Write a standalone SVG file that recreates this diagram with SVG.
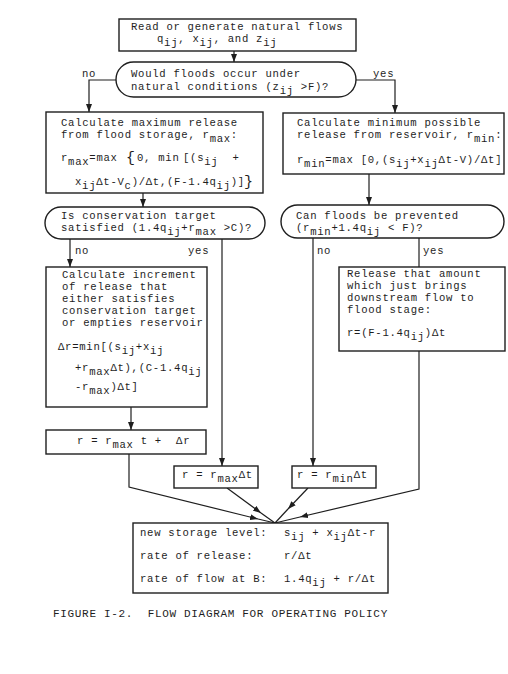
<svg xmlns="http://www.w3.org/2000/svg" width="508" height="674" viewBox="0 0 508 674">
<style>
  .bg{fill:#ffffff}
  .box{fill:#ffffff;stroke:#1e1e1e;stroke-width:1.4}
  .ln{fill:none;stroke:#1e1e1e;stroke-width:1.2}
  .t{font-family:"Liberation Mono","DejaVu Sans Mono",monospace;font-size:10.6px;letter-spacing:0.72px;fill:#1e1e1e;white-space:pre}
  .big{font-size:15px;letter-spacing:0}
  .cap{font-size:11px;letter-spacing:0.68px}
</style>
<defs>
  <marker id="arr" markerUnits="userSpaceOnUse" markerWidth="9" markerHeight="7" refX="8" refY="3.5" orient="auto">
    <path d="M0,0.5 L8,3.5 L0,6.5 z" fill="#1e1e1e"/>
  </marker>
</defs>
<rect class="bg" x="0" y="0" width="508" height="674"/>

<g id="connectors">
  <line class="ln" x1="234" y1="51" x2="234" y2="62" marker-end="url(#arr)"/>
  <polyline class="ln" points="116,80 89,80 89,112" marker-end="url(#arr)"/>
  <polyline class="ln" points="356,80 395,80 395,113" marker-end="url(#arr)"/>
  <line class="ln" x1="143" y1="193" x2="143" y2="207" marker-end="url(#arr)"/>
  <line class="ln" x1="369" y1="174" x2="369" y2="205" marker-end="url(#arr)"/>
  <line class="ln" x1="70" y1="239" x2="70" y2="267" marker-end="url(#arr)"/>
  <line class="ln" x1="222" y1="239" x2="222" y2="466" marker-end="url(#arr)"/>
  <line class="ln" x1="131" y1="407" x2="131" y2="430" marker-end="url(#arr)"/>
  <line class="ln" x1="313" y1="238" x2="313" y2="466" marker-end="url(#arr)"/>
  <line class="ln" x1="419" y1="238" x2="419" y2="267"/>
  <polyline class="ln" points="129,454 129,487 258,519" marker-end="url(#arr)"/>
  <line class="ln" x1="258" y1="519" x2="275" y2="523"/>
  <line class="ln" x1="227" y1="488" x2="261" y2="513" marker-end="url(#arr)"/>
  <line class="ln" x1="261" y1="513" x2="275" y2="523"/>
  <line class="ln" x1="308" y1="488" x2="288" y2="509" marker-end="url(#arr)"/>
  <line class="ln" x1="288" y1="509" x2="275" y2="523"/>
  <polyline class="ln" points="419,351 419,489 300,517" marker-end="url(#arr)"/>
  <line class="ln" x1="300" y1="517" x2="275" y2="523"/>
  <text class="t" x="82" y="77">no</text>
  <text class="t" x="373" y="77">yes</text>
  <text class="t" x="75" y="254">no</text>
  <text class="t" x="188" y="254">yes</text>
  <text class="t" x="317" y="254">no</text>
  <text class="t" x="423" y="254">yes</text>
</g>

<g id="read">
  <rect class="box" x="119" y="19" width="237" height="32"/>
  <text class="t"><tspan x="131" y="30">Read or generate natural flows</tspan><tspan x="157" y="42">q</tspan><tspan dy="4">ij</tspan><tspan dy="-4">, x</tspan><tspan dy="4">ij</tspan><tspan dy="-4">, and z</tspan><tspan dy="4">ij</tspan></text>
</g>

<g id="floods">
  <rect class="box" x="116" y="62" width="240" height="35" rx="17.5"/>
  <text class="t"><tspan x="131" y="77">Would floods occur under</tspan><tspan x="131" y="90">natural conditions (z</tspan><tspan dy="4">ij</tspan><tspan dy="-4"> &gt;F)?</tspan></text>
</g>

<g id="maxrelease">
  <rect class="box" x="46" y="112" width="217" height="81"/>
  <text class="t"><tspan x="61" y="126">Calculate maximum release</tspan><tspan x="61" y="138">from flood storage, r</tspan><tspan dy="4">max</tspan><tspan dy="-4">:</tspan><tspan x="61" y="161">r</tspan><tspan dy="4">max</tspan><tspan dy="-4">=max</tspan><tspan class="big" x="126" dy="1">{</tspan><tspan x="137" dy="-1">0, min</tspan><tspan x="183">[(s</tspan><tspan dy="4">ij</tspan><tspan dy="-4">  +</tspan><tspan x="75" y="185">x</tspan><tspan dy="4">ij</tspan><tspan dy="-4">Δt-V</tspan><tspan dy="4">c</tspan><tspan dy="-4">)/Δt,(F-1.4q</tspan><tspan dy="4">ij</tspan><tspan dy="-4">)]</tspan><tspan class="big" x="244" dy="1">}</tspan></text>
</g>

<g id="minrelease">
  <rect class="box" x="283" y="113" width="221" height="61"/>
  <text class="t"><tspan x="297" y="126">Calculate minimum possible</tspan><tspan x="297" y="138">release from reservoir, r</tspan><tspan dy="4">min</tspan><tspan dy="-4">:</tspan><tspan x="297" y="163">r</tspan><tspan dy="4">min</tspan><tspan dy="-4">=max [0,(s</tspan><tspan dy="4">ij</tspan><tspan dy="-4">+x</tspan><tspan dy="4">ij</tspan><tspan dy="-4">Δt-V)/Δt]</tspan></text>
</g>

<g id="conservation">
  <rect class="box" x="45" y="207" width="220" height="32" rx="16"/>
  <text class="t"><tspan x="61" y="219">Is conservation target</tspan><tspan x="61" y="231">satisfied (1.4q</tspan><tspan dy="4">ij</tspan><tspan dy="-4">+r</tspan><tspan dy="4">max</tspan><tspan dy="-4"> &gt;C)?</tspan></text>
</g>

<g id="prevented">
  <rect class="box" x="281" y="205" width="223" height="33" rx="16.5"/>
  <text class="t"><tspan x="296" y="219">Can floods be prevented</tspan><tspan x="296" y="231">(r</tspan><tspan dy="4">min</tspan><tspan dy="-4">+1.4q</tspan><tspan dy="4">ij</tspan><tspan dy="-4"> &lt; F)?</tspan></text>
</g>

<g id="increment">
  <rect class="box" x="46" y="267" width="161" height="140"/>
  <text class="t"><tspan x="62" y="278">Calculate increment</tspan><tspan x="62" y="290">of release that</tspan><tspan x="62" y="302">either satisfies</tspan><tspan x="62" y="314">conservation target</tspan><tspan x="62" y="326">or empties reservoir</tspan><tspan x="58" y="350">Δr=min[(s</tspan><tspan dy="4">ij</tspan><tspan dy="-4">+x</tspan><tspan dy="4">ij</tspan><tspan x="75" y="371">+r</tspan><tspan dy="4">max</tspan><tspan dy="-4">Δt),(C-1.4q</tspan><tspan dy="4">ij</tspan><tspan x="75" y="390">-r</tspan><tspan dy="4">max</tspan><tspan dy="-4">)Δt]</tspan></text>
</g>

<g id="rsum">
  <rect class="box" x="46" y="430" width="160" height="24"/>
  <text class="t"><tspan x="77" y="444">r = r</tspan><tspan dy="4">max</tspan><tspan dy="-4"> t +  Δr</tspan></text>
</g>

<g id="floodstage">
  <rect class="box" x="339" y="267" width="166" height="84"/>
  <text class="t"><tspan x="347" y="277">Release that amount</tspan><tspan x="347" y="289">which just brings</tspan><tspan x="347" y="301">downstream flow to</tspan><tspan x="347" y="313">flood stage:</tspan><tspan x="347" y="336">r=(F-1.4q</tspan><tspan dy="4">ij</tspan><tspan dy="-4">)Δt</tspan></text>
</g>

<g id="rmaxbox">
  <rect class="box" x="174" y="466" width="84" height="22"/>
  <text class="t"><tspan x="182" y="478">r = r</tspan><tspan dy="4">max</tspan><tspan dy="-4">Δt</tspan></text>
</g>

<g id="rminbox">
  <rect class="box" x="292" y="466" width="84" height="22"/>
  <text class="t"><tspan x="297" y="478">r = r</tspan><tspan dy="4">min</tspan><tspan dy="-4">Δt</tspan></text>
</g>

<g id="results">
  <rect class="box" x="133" y="523" width="255" height="70"/>
  <text class="t" x="140" y="536">new storage level:</text>
  <text class="t"><tspan x="284" y="536">s</tspan><tspan dy="4">ij</tspan><tspan dy="-4"> + x</tspan><tspan dy="4">ij</tspan><tspan dy="-4">Δt-r</tspan></text>
  <text class="t" x="140" y="559">rate of release:</text>
  <text class="t" x="284" y="559">r/Δt</text>
  <text class="t" x="140" y="582">rate of flow at B:</text>
  <text class="t"><tspan x="284" y="582">1.4q</tspan><tspan dy="4">ij</tspan><tspan dy="-4"> + r/Δt</tspan></text>
</g>

<text class="t cap" x="53" y="617">FIGURE I-2.  FLOW DIAGRAM FOR OPERATING POLICY</text>
</svg>
